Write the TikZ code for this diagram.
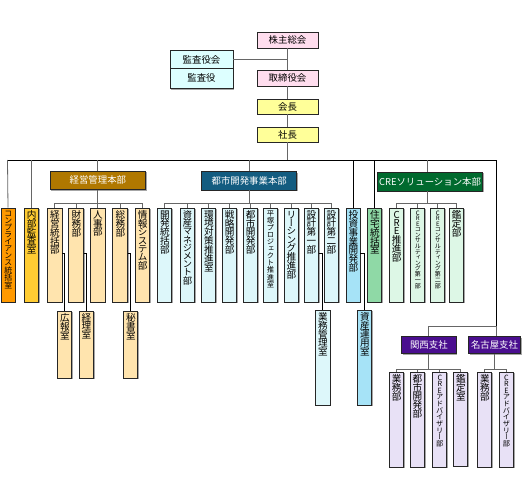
\documentclass[tikz,border=0pt]{standalone}
\usepackage{fontspec}
\setmainfont{Noto Sans CJK JP}
\newfontfamily\jpv[RawFeature=+vert]{Noto Sans CJK JP}
\usetikzlibrary{shadows}
\definecolor{pinkc}{HTML}{FFDDEE}
\definecolor{cyanc}{HTML}{DDFFFF}
\definecolor{yelc}{HTML}{FFFF99}
\definecolor{brownc}{HTML}{B07800}
\definecolor{bluec}{HTML}{135C80}
\definecolor{greenc}{HTML}{006A2E}
\definecolor{purpc}{HTML}{4A0E8F}
\definecolor{orangec}{HTML}{FF9900}
\definecolor{goldc}{HTML}{FFCC33}
\definecolor{wheatc}{HTML}{FFE4AE}
\definecolor{lcyanc}{HTML}{DDF7FA}
\definecolor{lbluec}{HTML}{A6E3F7}
\definecolor{mgreenc}{HTML}{8FD9A6}
\definecolor{pgreenc}{HTML}{DDF7E6}
\definecolor{lavc}{HTML}{E8E1F6}
\newlength\vtgap
\def\vtA#1{\ifx\relax#1\else\hbox to 1em{\hss\vphantom{国}#1\hss}\kern\vtgap\expandafter\vtA\fi}
\newcommand\vt[2][0pt]{\vbox{\offinterlineskip\setlength\vtgap{#1}\vtA#2\relax}}
% name, x1, x2, y1, y2, fill, fontsize, gap, text
\newcommand\vcol[9]{%
  \node[box,fill=#6,minimum width={#3-#2},minimum height={#5-#4}] (#1) at ({(#2+#3)/2},{(#4+#5)/2}) {};
  \node[vtxt,font={\jpv\fontsize{#7}{#7}\selectfont}] (#1t) at ([yshift=-2.5pt,xshift=0.3pt]#1.north) {\vt[#8]{#9}};}
% name, x1, x2, y1, y2, fill, textcolor, text
\newcommand\hbx[8]{%
  \node[box,fill=#6,text=#7,minimum width={#3-#2},minimum height={#5-#4}] (#1) at ({(#2+#3)/2},{(#4+#5)/2}) {#8};}
\begin{document}
\begin{tikzpicture}[x=1pt,y=-1pt,
  box/.style={draw=black!85,line width=0.6pt,inner sep=0pt,
    drop shadow={shadow xshift=1.3pt,shadow yshift=-1.3pt,fill=black!35,opacity=1},
    font={\fontsize{9.4}{10}\selectfont}},
  vtxt/.style={anchor=north,inner sep=0pt},
  conn/.style={draw=black!60,line width=0.8pt},
  busl/.style={draw=black,line width=0.8pt}]
\useasboundingbox (0,0) rectangle (524,500);

% ---------- top ----------
\hbx{a1}{257}{318}{32}{48}{pinkc}{black}{株主総会}
\hbx{a2}{257}{318}{70}{86}{pinkc}{black}{取締役会}
\hbx{a3}{257}{318}{99}{114}{yelc}{black}{会長}
\hbx{a4}{257}{318}{127}{142}{yelc}{black}{社長}
\hbx{m1}{170}{233}{50.7}{68.3}{cyanc}{black}{監査役会}
\hbx{m2}{170}{233}{68.3}{88.3}{cyanc}{black}{監査役}

\draw[conn] (a1.south) -- (a2.north);
\draw[conn] (m1.east) -- (m1.east -| a1.south);
\draw[conn] (a2.south) -- (a3.north);
\draw[conn] (a3.south) -- (a4.north);

% ---------- headers ----------
\hbx{h1}{50}{145.7}{171}{189.3}{brownc}{white}{経営管理本部}
\hbx{h2}{201.7}{296.7}{171.7}{190}{bluec}{white}{都市開発事業本部}
\hbx{h3}{377.7}{482.3}{172}{191}{greenc}{white}{CREソリューション本部}
\hbx{h4}{401.7}{456}{336.7}{353.3}{purpc}{white}{関西支社}
\hbx{h5}{468.3}{520.7}{336.7}{353.3}{purpc}{white}{名古屋支社}

% ---------- columns ----------
\vcol{c1}{1}{15}{208}{302}{orangec}{7.9}{0.1pt}{コンプライアンス統括室}
\vcol{c2}{24.5}{38.5}{208}{302}{goldc}{9.6}{0pt}{内部監査室}
\vcol{k1}{47}{62}{208}{302}{wheatc}{9.6}{0pt}{経営統括部}
\vcol{k2}{68.5}{83.5}{208}{302}{wheatc}{9.6}{0pt}{財務部}
\vcol{k3}{90}{105}{208}{302}{wheatc}{9.6}{0pt}{人事部}
\vcol{k4}{112.5}{127.5}{208}{302}{wheatc}{9.6}{0pt}{総務部}
\vcol{k5}{135}{149.5}{208}{302}{wheatc}{9.6}{0pt}{情報システム部}
\vcol{t1}{157.3}{171.7}{208}{302}{lcyanc}{9.6}{0pt}{開発統括部}
\vcol{t2}{180}{194.3}{208}{302}{lcyanc}{9.3}{0pt}{資産マネジメント部}
\vcol{t3}{201.7}{215.7}{208}{302}{lcyanc}{9.6}{0pt}{環境対策推進室}
\vcol{t4}{222.3}{236.3}{208}{302}{lcyanc}{9.6}{0pt}{戦略開発部}
\vcol{t5}{243.3}{257.3}{208}{302}{lcyanc}{9.6}{0pt}{都市開発部}
\vcol{t6}{263.3}{277.3}{208}{302}{lcyanc}{7.3}{0.6pt}{平塚プロジェクト推進室}
\vcol{t7}{284}{298.3}{208}{302}{lcyanc}{9.6}{0pt}{リーシング推進部}
\vcol{t8}{304}{318.3}{208}{302}{lcyanc}{9.6}{0pt}{設計第一部}
\vcol{t9}{324}{338.3}{208}{302}{lcyanc}{9.6}{0pt}{設計第二部}
\vcol{i1}{346}{360}{208}{302}{lbluec}{9.6}{0pt}{投資事業開発部}
\vcol{j1}{367.3}{381.7}{208}{302}{mgreenc}{9.6}{0pt}{住宅統括室}
\vcol{r1}{389.3}{403.3}{208}{302}{pgreenc}{9.6}{0pt}{CRE推進部}
\vcol{r2}{410.7}{424.3}{208}{302}{pgreenc}{6}{0.3pt}{CREコンサルティング第一部}
\vcol{r3}{430.7}{444.3}{208}{302}{pgreenc}{6}{0.3pt}{CREコンサルティング第二部}
\vcol{r4}{449.3}{463.3}{208}{302}{pgreenc}{9.6}{0pt}{鑑定部}

\vcol{s1}{57.7}{71.7}{311}{378}{wheatc}{9.6}{0pt}{広報室}
\vcol{s2}{79}{93.3}{311}{378}{wheatc}{9.6}{0pt}{経理室}
\vcol{s3}{123.3}{137.7}{311}{378}{wheatc}{9.6}{0pt}{秘書室}
\vcol{s4}{315}{330}{310}{405}{lcyanc}{9.6}{0pt}{業務管理室}
\vcol{s5}{357.7}{371.7}{310}{405}{lbluec}{9.6}{0pt}{資産運用室}

\vcol{b1}{389.3}{403.3}{372}{467}{lavc}{9.6}{0pt}{業務部}
\vcol{b2}{410}{424.3}{372}{467}{lavc}{9.6}{0pt}{都市開発部}
\vcol{b3}{432.3}{446.7}{372}{467}{lavc}{7.2}{0.3pt}{CREアドバイザリー部}
\vcol{b4}{453.3}{467.7}{372}{466}{lavc}{9.6}{0pt}{鑑定室}
\vcol{b5}{477.3}{491.7}{372}{467}{lavc}{9.6}{0pt}{業務部}
\vcol{b6}{499}{513.3}{372}{467}{lavc}{7.2}{0.3pt}{CREアドバイザリー部}

% ---------- main bus ----------
\coordinate (busL) at (7.5,160);
\coordinate (busR) at (496,160);
\coordinate (jc) at (427.3,160);
\draw[conn] (a4.south) -- (a4.south |- busL);
\draw[busl] (busL) -- (busR);
\draw[conn] (busL) -- (c1.north);
\draw[conn] (c2.north |- busL) -- (c2.north);
\draw[conn] (h1.north |- busL) -- (h1.north);
\draw[conn] (h2.north |- busL) -- (h2.north);
\draw[busl] (i1.north |- busL) -- (i1.north);
\draw[busl] (j1.north |- busL) -- (j1.north);
\draw[conn] (jc) -- (jc |- h3.north);

% ---------- sub buses ----------
\coordinate (sby) at (0,203);
\draw[conn] (h1.south) -- (h1.south |- sby);
\draw[conn] (k1.north |- sby) -- (k5.north |- sby);
\foreach \n in {k1,k2,k3,k4,k5} \draw[conn] (\n.north |- sby) -- (\n.north);
\draw[conn] (h2.south) -- (h2.south |- sby);
\draw[conn] (t1.north |- sby) -- (t9.north |- sby);
\foreach \n in {t1,t2,t3,t4,t5,t6,t7,t8,t9} \draw[conn] (\n.north |- sby) -- (\n.north);
\draw[conn] (jc |- h3.south) -- (jc |- sby);
\draw[conn] (r1.north |- sby) -- (r4.north |- sby);
\foreach \n in {r1,r2,r3,r4} \draw[conn] (\n.north |- sby) -- (\n.north);

% ---------- children ----------
\coordinate (ly) at (0,253);
\draw[busl] (k1.east |- ly) -- (s1.north |- ly) -- (s1.north);
\draw[busl] (k2.east |- ly) -- (s2.north |- ly) -- (s2.north);
\draw[busl] (k4.east |- ly) -- (s3.north |- ly) -- (s3.north);
\draw[busl] (t8.east |- ly) -- (s4.north |- ly) -- (s4.north);
\draw[busl] (i1.east |- ly) -- (s5.north |- ly) -- (s5.north);

% ---------- branches ----------
\coordinate (brb) at (496,326);
\draw[busl] (busR) -- (brb);
\draw[conn] (brb) -- (brb -| h4.north) -- (h4.north);
\draw[conn] (brb) -- (brb |- h5.north);
\coordinate (bby) at (0,369);
\draw[conn] (h4.south) -- (h4.south |- bby);
\draw[conn] (b1.north |- bby) -- (b4.north |- bby);
\foreach \n in {b1,b2,b3,b4} \draw[conn] (\n.north |- bby) -- (\n.north);
\draw[conn] (h5.south) -- (h5.south |- bby);
\draw[conn] (b5.north |- bby) -- (b6.north |- bby);
\foreach \n in {b5,b6} \draw[conn] (\n.north |- bby) -- (\n.north);
\end{tikzpicture}
\end{document}
